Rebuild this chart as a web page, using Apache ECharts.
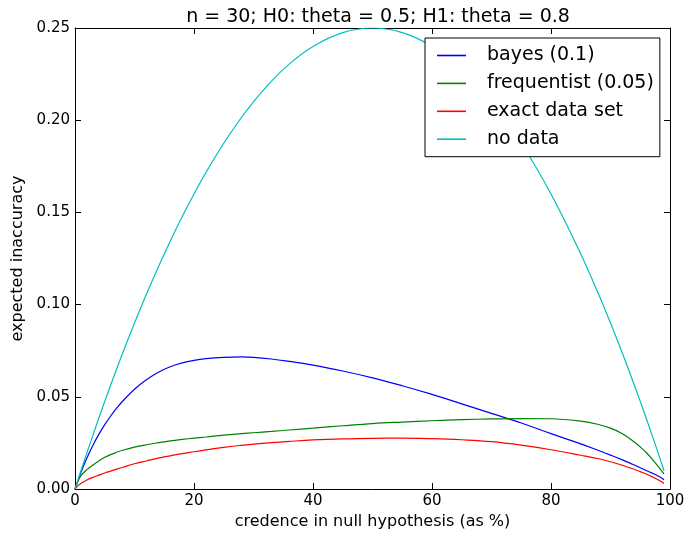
<!DOCTYPE html>
<html>
<head>
<meta charset="utf-8">
<script src="https://cdn.jsdelivr.net/npm/echarts@6/dist/echarts.min.js"></script>
<style>
html,body{margin:0;padding:0;background:#fff;}
#chart{width:688px;height:539px;}
</style>
</head>
<body>
<div id="chart"></div>
<script>
var titleText = 'n = 30; H0: theta = 0.5; H1: theta = 0.8';
var xName = 'credence in null hypothesis (as %)';
var yName = 'expected inaccuracy';
var seriesNames = ['bayes (0.1)', 'frequentist (0.05)', 'exact data set', 'no data'];
var seriesColors = ['#0000ff', '#008000', '#ff0000', '#00bfbf'];

var xs = [0, 0.5, 1, 2, 3, 4, 5, 6, 7, 8, 10, 12, 14, 16, 18, 20, 22, 25, 28, 30, 33, 36, 40, 45, 50, 55, 60, 65, 70, 75, 80, 85, 88, 90, 92, 94, 95, 96, 97, 98, 99];

var bayes = [0, 0.0046, 0.0090, 0.0168, 0.0236, 0.0296, 0.0349, 0.0396, 0.0438, 0.0476, 0.0541, 0.0592, 0.0633, 0.0663, 0.0684, 0.0698, 0.0707, 0.0714, 0.0716, 0.0714, 0.0705, 0.0692, 0.0672, 0.0640, 0.0603, 0.0560, 0.0513, 0.0462, 0.0410, 0.0358, 0.0300, 0.0245, 0.0209, 0.0184, 0.0158, 0.0130, 0.0115, 0.0100, 0.0086, 0.0070, 0.0050];

var frequentist = [0, 0.0042, 0.0072, 0.0105, 0.0130, 0.0152, 0.0172, 0.0187, 0.0199, 0.0210, 0.0227, 0.0240, 0.0251, 0.0261, 0.0269, 0.0276, 0.0282, 0.0292, 0.0300, 0.0305, 0.0312, 0.0320, 0.0330, 0.0343, 0.0355, 0.0363, 0.0370, 0.0376, 0.0380, 0.0382, 0.0381, 0.0368, 0.0350, 0.0330, 0.0300, 0.0255, 0.0228, 0.0198, 0.0162, 0.0123, 0.0082];

var exactData = [0, 0.0018, 0.0030, 0.0049, 0.0063, 0.0075, 0.0087, 0.0097, 0.0108, 0.0118, 0.0137, 0.0152, 0.0167, 0.0180, 0.0192, 0.0202, 0.0212, 0.0226, 0.0237, 0.0243, 0.0251, 0.0258, 0.0266, 0.0272, 0.0275, 0.0276, 0.0273, 0.0267, 0.0257, 0.0238, 0.0213, 0.0183, 0.0164, 0.0148, 0.0129, 0.0107, 0.0094, 0.0081, 0.0066, 0.0050, 0.0030];

var noData = [0, 0.004975, 0.0099, 0.0196, 0.0291, 0.0384, 0.0475, 0.0564, 0.0651, 0.0736, 0.0900, 0.1056, 0.1204, 0.1344, 0.1476, 0.1600, 0.1716, 0.1875, 0.2016, 0.2100, 0.2211, 0.2304, 0.2400, 0.2475, 0.2500, 0.2475, 0.2400, 0.2275, 0.2100, 0.1875, 0.1600, 0.1275, 0.1056, 0.0900, 0.0736, 0.0564, 0.0475, 0.0384, 0.0291, 0.0196, 0.0099];

var allValues = [bayes, frequentist, exactData, noData];

var FONT = 'DejaVu Sans';
var chart = echarts.init(document.getElementById('chart'), null, {renderer: 'canvas'});

function pairs(vals) {
  return xs.map(function (x, i) { return [x, vals[i]]; });
}

var series = seriesNames.map(function (name, k) {
  return {
    name: name,
    type: 'line',
    xAxisIndex: 0,
    yAxisIndex: 0,
    data: pairs(allValues[k]),
    smooth: 0.4,
    symbol: 'none',
    showSymbol: false,
    clip: true,
    lineStyle: {color: seriesColors[k], width: 1.2},
    itemStyle: {color: seriesColors[k]},
    emphasis: {disabled: true},
    animation: false
  };
});

var axisCommon = {
  axisLine: {show: true, onZero: false, lineStyle: {color: '#000', width: 1}},
  axisTick: {show: true, inside: true, length: 6, lineStyle: {color: '#000', width: 1}},
  splitLine: {show: false}
};

var option = {
  backgroundColor: '#fff',
  animation: false,
  title: {
    text: titleText,
    left: 373,
    top: 3,
    textAlign: 'center',
    textStyle: {fontFamily: FONT, fontSize: 19, fontWeight: 'normal', color: '#000'}
  },
  grid: {left: 75, right: 18, top: 28, bottom: 50, show: false},
  legend: {
    data: seriesNames.map(function (n) { return {name: n, icon: 'rect'}; }),
    orient: 'vertical',
    left: 425,
    top: 38,
    padding: [8, 6, 8, 12],
    itemGap: 8.9,
    itemWidth: 29,
    itemHeight: 1.6,
    backgroundColor: '#fff',
    borderColor: '#000',
    borderWidth: 1,
    borderRadius: 0,
    textStyle: {fontFamily: FONT, fontSize: 19, color: '#000', lineHeight: 19, padding: [0, 0, 0, 16]}
  },
  xAxis: [
    Object.assign({
      type: 'value', min: 0, max: 100, interval: 20, position: 'bottom',
      name: xName, nameLocation: 'middle', nameGap: 25,
      nameTextStyle: {fontFamily: FONT, fontSize: 16, color: '#000'},
      axisLabel: {fontFamily: FONT, fontSize: 15, color: '#000', margin: 5}
    }, axisCommon),
    Object.assign({
      type: 'value', min: 0, max: 100, interval: 20, position: 'top',
      axisLabel: {show: false}
    }, axisCommon)
  ],
  yAxis: [
    Object.assign({
      type: 'value', min: 0, max: 0.25, interval: 0.05, position: 'left',
      name: yName, nameLocation: 'middle', nameGap: 38,
      nameTextStyle: {fontFamily: FONT, fontSize: 16, color: '#000'},
      axisLabel: {fontFamily: FONT, fontSize: 15, color: '#000', margin: 5,
        formatter: function (v) { return v.toFixed(2); }}
    }, axisCommon),
    Object.assign({
      type: 'value', min: 0, max: 0.25, interval: 0.05, position: 'right',
      axisLabel: {show: false}
    }, axisCommon)
  ],
  series: series
};

chart.setOption(option);
</script>
</body>
</html>
